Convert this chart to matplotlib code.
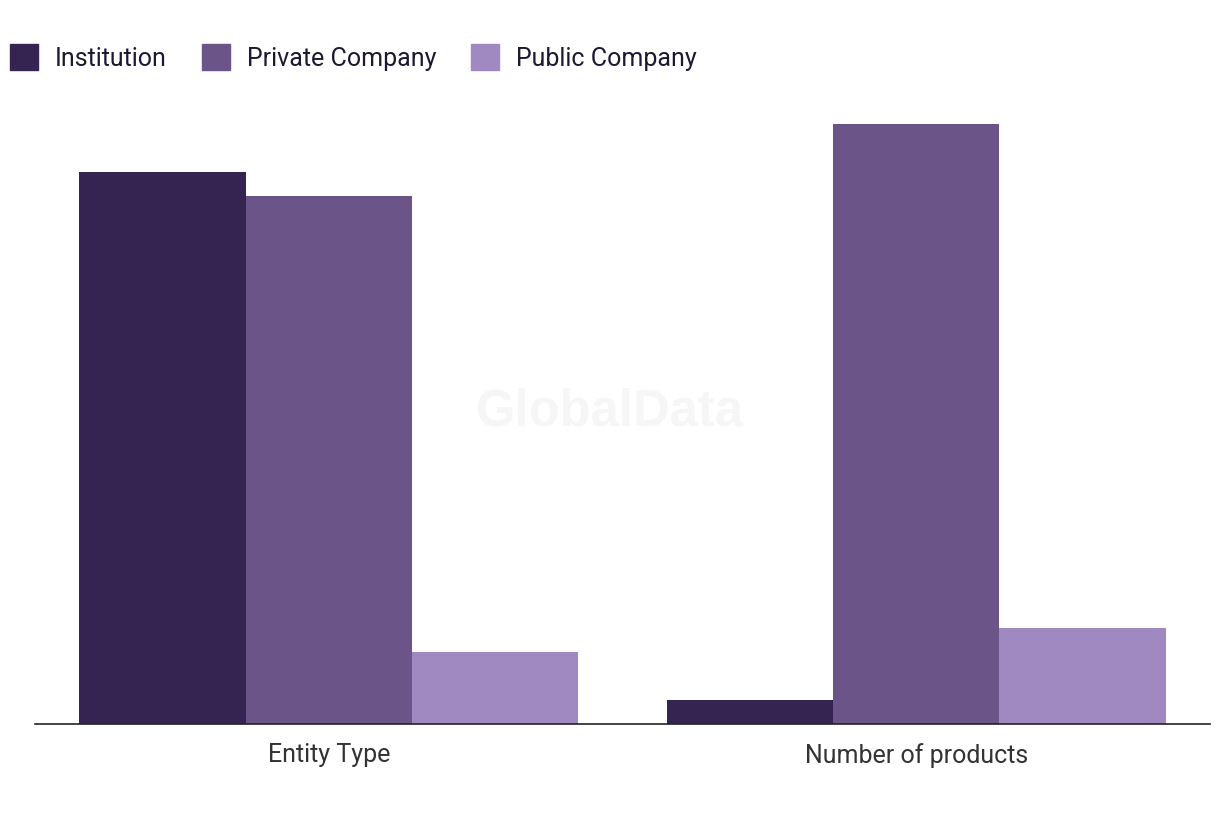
import matplotlib.pyplot as plt
from matplotlib.patches import Patch
import numpy as np

# data
categories = ['Entity Type', 'Number of products']
series = ['Institution', 'Private Company', 'Public Company']
institution = [46, 2]
private_company = [44, 50]
public_company = [6, 8]
colors = ['#352452', '#6a5488', '#a088c0']

plt.rcParams['font.family'] = ['Roboto', 'DejaVu Sans']

fig = plt.figure(figsize=(12.2, 8.2), dpi=100)
ax = fig.add_axes([35 / 1220, 1 - 725 / 820, 1175 / 1220, 624 / 820])

x = np.arange(len(categories))
w = 0.283
for i, vals in enumerate([institution, private_company, public_company]):
    ax.bar(x + (i - 1) * w, vals, width=w, color=colors[i], label=series[i])

ax.set_xlim(-0.5, 1.5)
ax.set_ylim(0, 52)
ax.set_xticks(x)
ax.set_xticklabels(categories, fontsize=18, color='#333333')
ax.tick_params(axis='x', length=0, pad=13)
ax.set_yticks([])
for s in ['top', 'right', 'left']:
    ax.spines[s].set_visible(False)
ax.spines['bottom'].set_color('#222222')
ax.spines['bottom'].set_linewidth(1.2)

# faint watermark
fig.text(610 / 1220, 1 - 412 / 820, 'GlobalData', fontsize=36.5, fontweight='bold',
         color='#f6f6f6', ha='center', va='center', family=['Liberation Sans', 'DejaVu Sans'],
         zorder=0)

handles = [Patch(color=c) for c in colors]
fig.legend(handles, series, loc='upper left', bbox_to_anchor=(0, 1 - 35 / 820),
           ncol=3, frameon=False, fontsize=18, handlelength=1.12, handleheight=1.2,
           handletextpad=0.68, columnspacing=1.4, labelcolor='#1c1a33', borderaxespad=0)

fig.savefig('out.png', dpi=100, facecolor='white')
